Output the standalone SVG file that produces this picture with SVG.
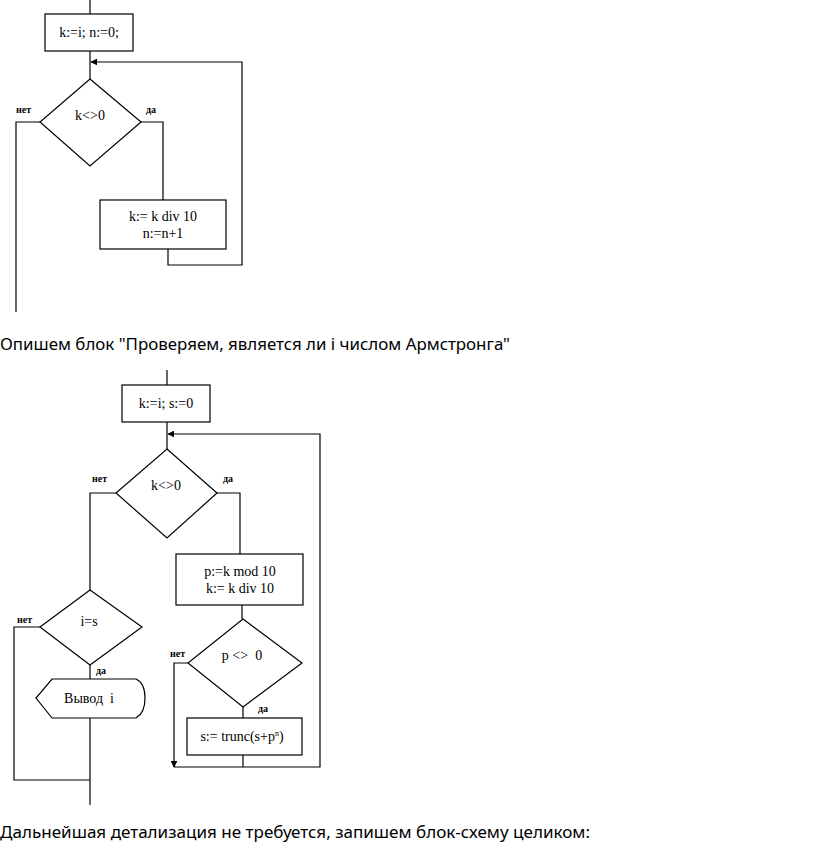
<svg xmlns="http://www.w3.org/2000/svg" width="816" height="863" viewBox="0 0 816 863">
<defs>
<marker id="arrL" viewBox="0 0 10 10" refX="9" refY="5" markerWidth="7" markerHeight="7" orient="auto" markerUnits="userSpaceOnUse">
<path d="M0,0 L10,5 L0,10 z" fill="#000"/>
</marker>
</defs>
<style>
.s{fill:#fff;stroke:#000;stroke-width:1.2}
.c{fill:none;stroke:#000;stroke-width:1.2}
.t{font-family:"Liberation Serif","Times New Roman",serif;font-size:14px;fill:#000;text-anchor:middle}
.l{font-family:"Liberation Serif","Times New Roman",serif;font-size:10px;font-weight:bold;fill:#000}
.p{font-family:"Noto Sans","Open Sans",sans-serif;font-size:17px;fill:#000}
</style>
<rect width="816" height="863" fill="#fff"/>

<g id="connectors">
<!-- diagram 1 -->
<path class="c" d="M90,0 V14"/>
<path class="c" d="M90,51 V79"/>
<path class="c" d="M40,122 H16 V312"/>
<path class="c" d="M141,122 H163 V200"/>
<path class="c" d="M168,249 V265 H242 V62 H91" marker-end="url(#arrL)"/>
<!-- diagram 2 -->
<path class="c" d="M167,370 V385"/>
<path class="c" d="M167,422 V449"/>
<path class="c" d="M116,493 H90 V590"/>
<path class="c" d="M217,493 H240 V554"/>
<path class="c" d="M242,605 V619"/>
<path class="c" d="M40,627 H14 V780 H90"/>
<path class="c" d="M90,665 V679"/>
<path class="c" d="M90,718 V805"/>
<path class="c" d="M188,663 H174 V767" marker-end="url(#arrL)"/>
<path class="c" d="M243,707 V718"/>
<path class="c" d="M243,755 V767"/>
<path class="c" d="M174,767 H320 V434 H168" marker-end="url(#arrL)"/>
</g>

<g id="d1-init">
<rect class="s" x="45" y="14" width="88" height="37"/>
<text class="t" x="89" y="37">k:=i; n:=0;</text>
</g>
<g id="d1-cond">
<polygon class="s" points="90,79 141,122 90,166 40,122"/>
<text class="t" x="90" y="120">k&lt;&gt;0</text>
<text class="l" x="16" y="113">нет</text>
<text class="l" x="146" y="113">да</text>
</g>
<g id="d1-body">
<rect class="s" x="100" y="200" width="126" height="49"/>
<text class="t" x="163" y="221">k:= k div 10</text>
<text class="t" x="163" y="238">n:=n+1</text>
</g>

<g id="caption1">
<text class="p" x="0" y="350" textLength="510" lengthAdjust="spacingAndGlyphs">Опишем блок "Проверяем, является ли i числом Армстронга"</text>
</g>

<g id="d2-init">
<rect class="s" x="122" y="385" width="88" height="37"/>
<text class="t" x="166" y="408">k:=i; s:=0</text>
</g>
<g id="d2-cond">
<polygon class="s" points="167,449 217,493 167,538 116,493"/>
<text class="t" x="166" y="490">k&lt;&gt;0</text>
<text class="l" x="92" y="482">нет</text>
<text class="l" x="223" y="482">да</text>
</g>
<g id="d2-body">
<rect class="s" x="176" y="554" width="127" height="51"/>
<text class="t" x="240" y="576">p:=k mod 10</text>
<text class="t" x="240" y="593">k:= k div 10</text>
</g>
<g id="d2-check">
<polygon class="s" points="90,590 142,627 90,665 40,627"/>
<text class="t" x="89" y="626">i=s</text>
<text class="l" x="17" y="623">нет</text>
<text class="l" x="96" y="674">да</text>
</g>
<g id="d2-output">
<path class="s" d="M52,679 H136 Q145,683 145,698 Q145,713 136,718 H52 L36,698 Z"/>
<text class="t" x="89" y="703" xml:space="preserve">Вывод  i</text>
</g>
<g id="d2-cond2">
<polygon class="s" points="243,619 302,663 243,707 188,663"/>
<text class="t" x="242" y="660" xml:space="preserve">p &lt;&gt;  0</text>
<text class="l" x="170" y="657">нет</text>
<text class="l" x="258" y="712">да</text>
</g>
<g id="d2-sum">
<rect class="s" x="187" y="718" width="115" height="37"/>
<text class="t" x="242" y="741">s:= trunc(s+p<tspan font-size="8" dy="-5">n</tspan><tspan dy="5">)</tspan></text>
</g>

<g id="caption2">
<text class="p" x="0" y="838" textLength="590" lengthAdjust="spacingAndGlyphs">Дальнейшая детализация не требуется, запишем блок-схему целиком:</text>
</g>
</svg>
